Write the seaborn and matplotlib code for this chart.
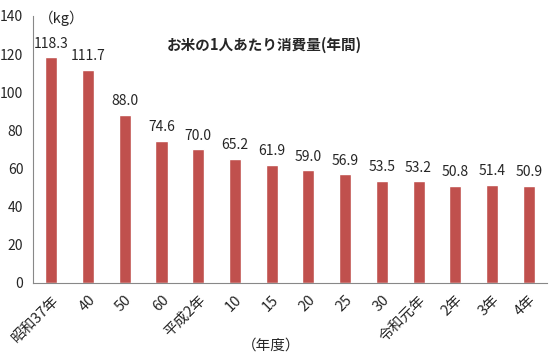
import numpy as np
import pandas as pd
import seaborn as sns
import matplotlib.pyplot as plt

years = ["昭和37年", "40", "50", "60", "平成2年", "10", "15", "20", "25", "30",
         "令和元年", "2年", "3年", "4年"]
consumption = [118.3, 111.7, 88.0, 74.6, 70.0, 65.2, 61.9, 59.0, 56.9, 53.5,
               53.2, 50.8, 51.4, 50.9]

sns.set_style("white")
plt.rcParams['font.family'] = ['Noto Sans CJK JP', 'DejaVu Sans']

df = pd.DataFrame({"year": years, "kg": consumption})

fig = plt.figure(figsize=(5.54, 3.6), dpi=100)
ax = fig.add_axes([0.0596, 0.214, 0.928, 0.742])
sns.barplot(data=df, x="year", y="kg", color="#C0504D", width=0.33,
            saturation=1, ax=ax)

for i, v in enumerate(consumption):
    ax.text(i, v + 3.5, f"{v:.1f}", ha="center", va="bottom", fontsize=10)

ax.set_ylim(0, 140)
ax.set_xlim(-0.5, len(years) - 0.5)
ax.set_yticks(range(0, 141, 20))
ax.set_xticks(np.arange(-0.5, len(years), 1), minor=False)
ax.set_xticklabels([])
ax.set_xticks(range(len(years)), minor=True)
ax.set_xticklabels(years, minor=True, rotation=45, ha="right",
                   rotation_mode="anchor", fontsize=10.5)
ax.tick_params(axis="x", which="minor", length=0, pad=7)
ax.tick_params(axis="x", which="major", length=4, color="#888888", direction="out")
ax.tick_params(axis="y", length=4, color="#888888", direction="out", labelsize=10, pad=3)
ax.set_xlabel("")
ax.set_ylabel("")
sns.despine(ax=ax)
for s in ["left", "bottom"]:
    ax.spines[s].set_color("#888888")
    ax.spines[s].set_linewidth(0.8)

fig.text(0.112, 0.95, "（kg）", ha="center", va="center", fontsize=10.5)
fig.text(0.478, 0.875, "お米の1人あたり消費量(年間)", ha="center", va="center",
         fontsize=10.5, fontweight="bold")
fig.text(0.49, 0.04, "（年度）", ha="center", va="center", fontsize=10.5)

fig.savefig("out.png", dpi=100)
